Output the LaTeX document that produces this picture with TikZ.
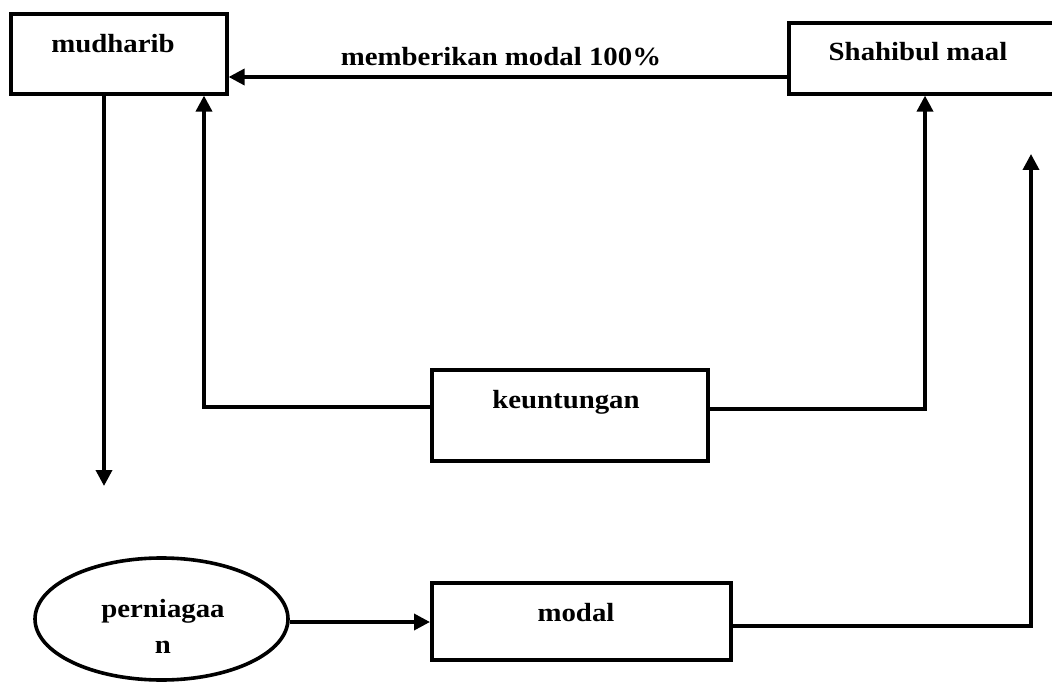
\documentclass[tikz,border=0pt]{standalone}
\usepackage{fontspec}
\setmainfont{Liberation Serif}[FakeStretch=1.10]
\usetikzlibrary{arrows.meta,shapes.geometric}
\begin{document}
\begin{tikzpicture}[x=1pt,y=-1pt,
  boxnode/.style={draw, line width=3.6pt, inner sep=0pt, anchor=north west},
  ellnode/.style={draw, ellipse, line width=3.6pt, inner sep=0pt},
  lbl/.style={font=\fontsize{26.2}{30}\selectfont\bfseries, inner sep=0pt, anchor=base},
  arr/.style={line width=3.6pt, -{Triangle[length=16pt,width=16pt]}}]
\useasboundingbox (0,0) rectangle (1052,684);
\clip (0,0) rectangle (1052,684);
\fill[white] (0,0) rectangle (1052,684);
% boxes
\node[boxnode, minimum width=216pt, minimum height=80pt] (m) at (9,12) {};
\node[boxnode, minimum width=272pt, minimum height=71pt] (s) at (787,21) {};
\node[boxnode, minimum width=276pt, minimum height=91pt] (k) at (430,368) {};
\node[boxnode, minimum width=299pt, minimum height=77pt] (n) at (430,581) {};
\node[ellnode, minimum width=253pt, minimum height=122pt] (e) at (161.5,619) {};
% texts
\node[lbl] (mt) at (113,53) {mudharib};
\node[lbl] (st) at (918,61) {Shahibul maal};
\node[lbl] (kt) at (566,409) {keuntungan};
\node[lbl] (nt) at (576,621) {modal};
\node[lbl] (et1) at (163,617) {perniagaa};
\node[lbl] (et2) at (163,653) {n};
\node[lbl] (lt) at (501,66) {memberikan modal 100\%};
% connectors
\coordinate (ya) at (0,77);
\draw[arr] (s.west |- ya) -- (m.east |- ya);
\coordinate (d1) at (104,486);
\draw[arr] (m.south -| d1) -- (d1);
\coordinate (c1) at (204,407);
\draw[arr] (k.west |- c1) -| (m.south -| c1);
\coordinate (c2) at (925,409);
\draw[arr] (k.east |- c2) -| (s.south -| c2);
\coordinate (c3) at (0,622);
\draw[arr] (e.east |- c3) -- (n.west |- c3);
\coordinate (c5) at (0,626);
\coordinate (c4) at (1031,154);
\draw[arr] (n.east |- c5) -| (c4);
\end{tikzpicture}
\end{document}
